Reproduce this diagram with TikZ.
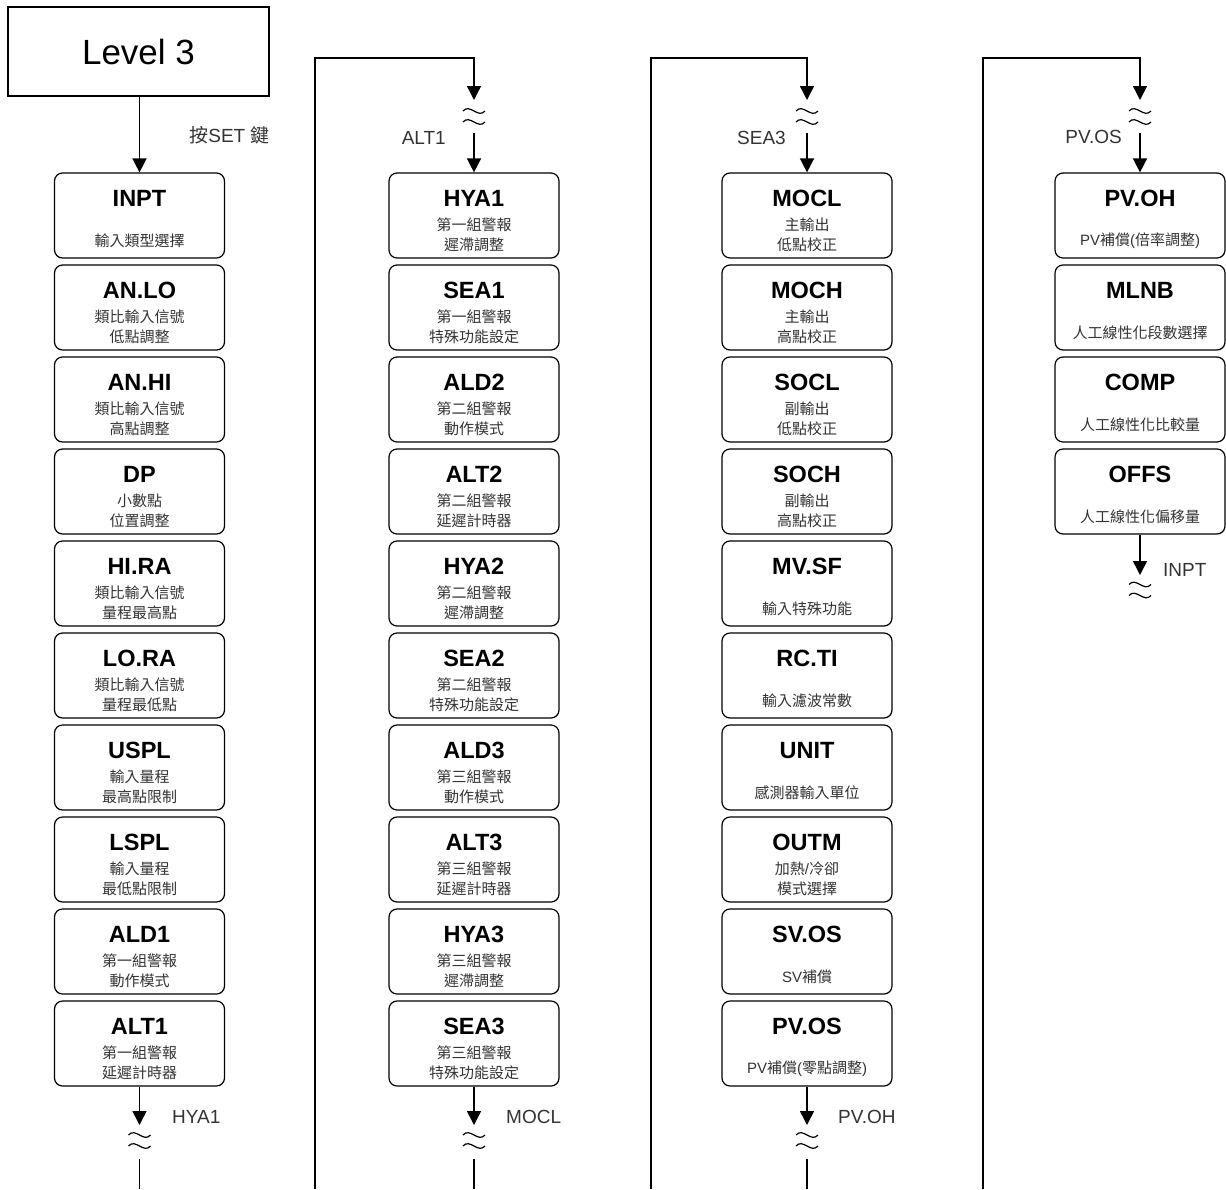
\documentclass[tikz,border=0pt]{standalone}
\usepackage{fontspec}
\setmainfont{Liberation Sans}
\newfontfamily\cjkf{Noto Sans CJK TC}
\usetikzlibrary{arrows.meta}
\newcommand\zh[1]{{\cjkf #1}}
\definecolor{subgray}{HTML}{333333}
\tikzset{
  box/.style={draw, line width=1.2pt, rounded corners=8pt, minimum width=170pt, minimum height=85pt, inner sep=0pt},
  ttl/.style={font=\fontsize{23.5}{26}\selectfont\bfseries, inner sep=0pt, text=black},
  sub/.style={font=\fontsize{15}{20}\selectfont\cjkf, inner sep=0pt, align=center, text=subgray},
  lbl/.style={font=\fontsize{19}{22}\selectfont, inner sep=0pt, text=subgray},
  arr/.style={line width=1.5pt, -{Triangle[width=14pt,length=14pt]}},
  ln/.style={line width=1.5pt},
  wave/.style={line width=1.2pt},
  brk/.pic={
    \draw[wave] (-11,-5.5) .. controls (-4,-13.5) and (4,2.5) .. (11,-5.5);
    \draw[wave] (-11,5.5) .. controls (-4,-2.5) and (4,13.5) .. (11,5.5);
  }
}
% #1 name, #2 x, #3 row, #4 title, #5 subtitle, #6 subtitle offset
\newcommand\bx[6]{%
  \node[box] (#1) at (#2,{173+92*#3+42.5}) {};
  \node[ttl] (#1t) at ([yshift=-26pt]#1.north) {#4};
  \node[sub] (#1s) at ([yshift=-#6pt]#1.north) {#5};
}
\begin{document}
\begin{tikzpicture}[x=1pt,y=-1pt]
\useasboundingbox (0,0) rectangle (1226,1189);

% Level 3
\node[draw, line width=1.2pt, minimum width=261pt, minimum height=89pt, inner sep=0pt,
      font=\fontsize{35}{40}\selectfont] (lv) at (138.5,51.5) {Level 3};

% column 1
\bx{inpt}{139.5}{0}{INPT}{輸入類型選擇}{68.5}
\bx{anlo}{139.5}{1}{AN.LO}{類比輸入信號\\低點調整}{62}
\bx{anhi}{139.5}{2}{AN.HI}{類比輸入信號\\高點調整}{62}
\bx{dp}{139.5}{3}{DP}{小數點\\位置調整}{62}
\bx{hira}{139.5}{4}{HI.RA}{類比輸入信號\\量程最高點}{62}
\bx{lora}{139.5}{5}{LO.RA}{類比輸入信號\\量程最低點}{62}
\bx{uspl}{139.5}{6}{USPL}{輸入量程\\最高點限制}{62}
\bx{lspl}{139.5}{7}{LSPL}{輸入量程\\最低點限制}{62}
\bx{aldone}{139.5}{8}{ALD1}{第一組警報\\動作模式}{62}
\bx{altone}{139.5}{9}{ALT1}{第一組警報\\延遲計時器}{62}

% column 2
\bx{hyaone}{474}{0}{HYA1}{第一組警報\\遲滯調整}{62}
\bx{seaone}{474}{1}{SEA1}{第一組警報\\特殊功能設定}{62}
\bx{aldtwo}{474}{2}{ALD2}{第二組警報\\動作模式}{62}
\bx{alttwo}{474}{3}{ALT2}{第二組警報\\延遲計時器}{62}
\bx{hyatwo}{474}{4}{HYA2}{第二組警報\\遲滯調整}{62}
\bx{seatwo}{474}{5}{SEA2}{第二組警報\\特殊功能設定}{62}
\bx{aldthree}{474}{6}{ALD3}{第三組警報\\動作模式}{62}
\bx{altthree}{474}{7}{ALT3}{第三組警報\\延遲計時器}{62}
\bx{hyathree}{474}{8}{HYA3}{第三組警報\\遲滯調整}{62}
\bx{seathree}{474}{9}{SEA3}{第三組警報\\特殊功能設定}{62}

% column 3
\bx{mocl}{807}{0}{MOCL}{主輸出\\低點校正}{62}
\bx{moch}{807}{1}{MOCH}{主輸出\\高點校正}{62}
\bx{socl}{807}{2}{SOCL}{副輸出\\低點校正}{62}
\bx{soch}{807}{3}{SOCH}{副輸出\\高點校正}{62}
\bx{mvsf}{807}{4}{MV.SF}{輸入特殊功能}{68.5}
\bx{rcti}{807}{5}{RC.TI}{輸入濾波常數}{68.5}
\bx{unit}{807}{6}{UNIT}{感測器輸入單位}{68.5}
\bx{outm}{807}{7}{OUTM}{加熱{\rmfamily/}冷卻\\模式選擇}{62}
\bx{svos}{807}{8}{SV.OS}{{\rmfamily SV}補償}{68.5}
\bx{pvos}{807}{9}{PV.OS}{{\rmfamily PV}補償{\rmfamily(}零點調整{\rmfamily)}}{68.5}

% column 4
\bx{pvoh}{1140}{0}{PV.OH}{{\rmfamily PV}補償{\rmfamily(}倍率調整{\rmfamily)}}{68.5}
\bx{mlnb}{1140}{1}{MLNB}{人工線性化段數選擇}{68.5}
\bx{comp}{1140}{2}{COMP}{人工線性化比較量}{68.5}
\bx{offs}{1140}{3}{OFFS}{人工線性化偏移量}{68.5}

% Level 3 -> INPT
\draw[arr] (lv.south -| inpt.north) -- (inpt.north);
\node[lbl] (setlbl) at (229.5,135) {\zh{按}SET \zh{鍵}};

% coordinates for the connectors
\coordinate (rtwo) at (315,1189);   \coordinate (ktwo) at (474,58);
\coordinate (rthree) at (651,1189); \coordinate (kthree) at (807,58);
\coordinate (rfour) at (983,1189);  \coordinate (kfour) at (1140,58);

% entries at the top of columns 2-4
\foreach \r/\k/\c/\n in {rtwo/ktwo/474/hyaone, rthree/kthree/807/mocl, rfour/kfour/1140/pvoh}{
  \coordinate (tip\n) at (\c,100);
  \coordinate (st\n) at (\c,133);
  \draw[arr] (\r) |- (\k) -- (tip\n);
  \pic at (\c,116.5) {brk};
  \draw[arr] (st\n) -- (\n.north);
}
\node[lbl, anchor=east] (lone) at (446,138) {ALT1};
\node[lbl, anchor=east] (ltwo) at (786,138) {SEA3};
\node[lbl, anchor=east] (lthree) at (1122,137) {PV.OS};

% exits at the bottom of columns 1-3
\foreach \c/\n in {139.5/altone, 474/seathree, 807/pvos}{
  \coordinate (e\n) at (\c,1125);
  \coordinate (f\n) at (\c,1159);
  \coordinate (g\n) at (\c,1189);
  \draw[arr] (\n.south) -- (e\n);
  \pic at (\c,1140.5) {brk};
  \draw[ln] (f\n) -- (g\n);
}
\node[lbl, anchor=west] (bone) at (172,1117) {HYA1};
\node[lbl, anchor=west] (btwo) at (506,1117) {MOCL};
\node[lbl, anchor=west] (bthree) at (838,1117) {PV.OH};

% exit of column 4
\coordinate (eoffs) at (1140,575);
\draw[arr] (offs.south) -- (eoffs);
\pic at (1140,590) {brk};
\node[lbl, anchor=west] (bfour) at (1163,570) {INPT};
\end{tikzpicture}
\end{document}
